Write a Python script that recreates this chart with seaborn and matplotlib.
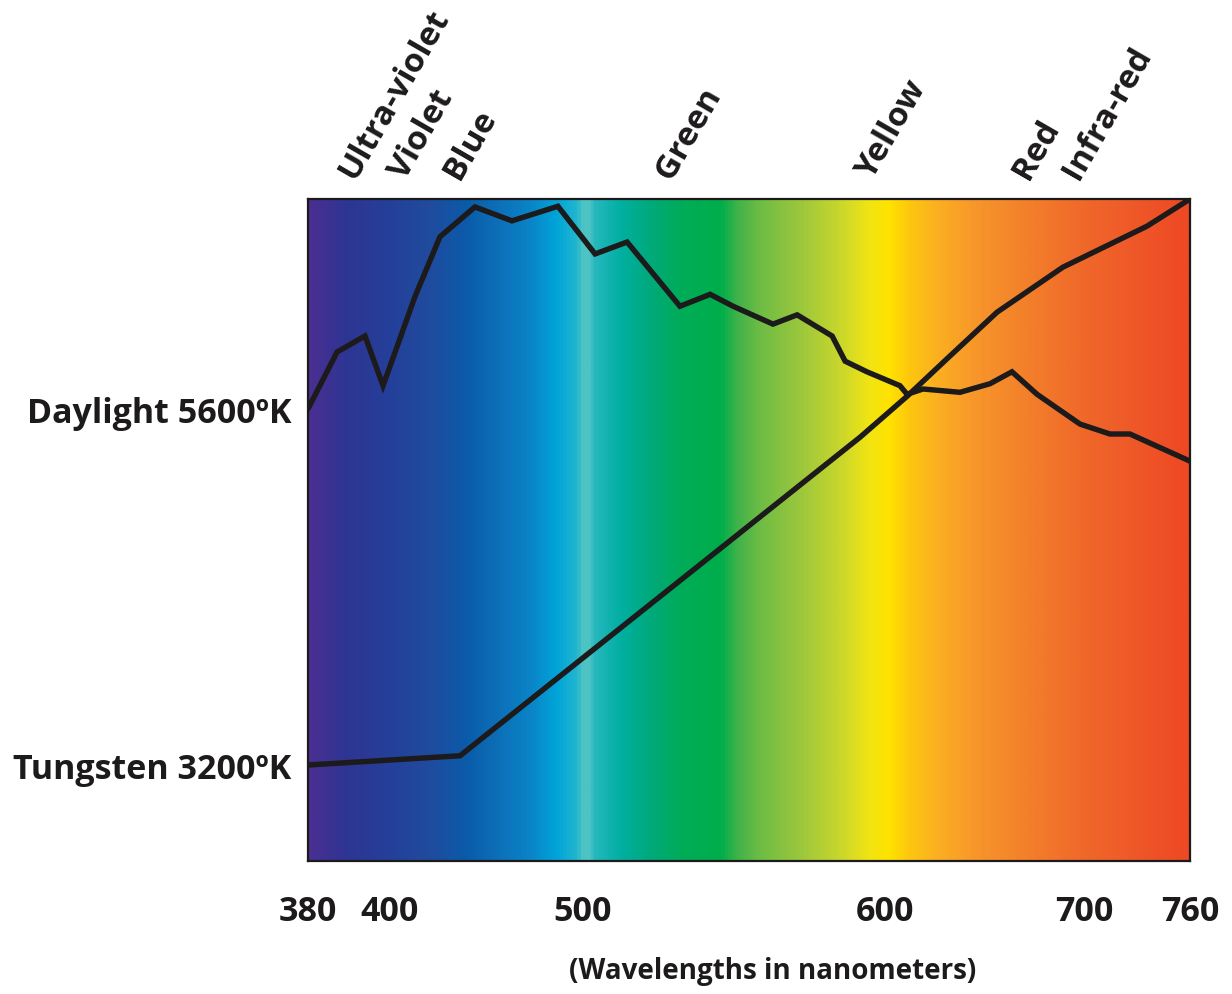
import numpy as np
import pandas as pd
import matplotlib
matplotlib.use("Agg")
import matplotlib.pyplot as plt
from matplotlib.colors import LinearSegmentedColormap
import seaborn as sns

# ---------------- data ----------------
DAYLIGHT_WL = [380, 387.1, 393.9, 398.3, 413.0, 425.9, 444.0, 463.2, 487.0, 504.0,
               514.6, 532.1, 542.1, 549.7, 562.9, 570.9, 582.5, 586.8, 594.0, 607.5,
               611.1, 619.1, 637.7, 652.8, 663.8, 676.4, 698.0, 714.7, 726.0, 760]
DAYLIGHT_VAL = [68.3, 76.9, 79.3, 71.8, 85.3, 94.3, 98.8, 96.7, 98.9, 91.7,
                93.5, 83.8, 85.6, 83.8, 81.1, 82.5, 79.3, 75.5, 73.9, 71.8,
                70.5, 71.3, 70.8, 72.1, 73.9, 70.5, 66.0, 64.5, 64.5, 60.4]

TUNGSTEN_WL = [380, 436.3, 591.7, 611.1, 632.7, 656.3, 689.4, 735.7, 760]
TUNGSTEN_VAL = [14.5, 15.9, 64.0, 70.2, 76.3, 82.9, 89.7, 95.9, 100]

SERIES_LABELS = ["Daylight 5600ºK", "Tungsten 3200ºK"]

X_TICKS = [380, 400, 500, 600, 700, 760]
X_TICK_LABELS = ["380", "400", "500", "600", "700", "760"]
X_LABEL = "(Wavelengths in nanometers)"

BAND_LABELS = ["Ultra-violet", "Violet", "Blue", "Green", "Yellow", "Red", "Infra-red"]
BAND_WL = [402, 416.5, 441.5, 535, 603.5, 676, 713]

# non-linear wavelength axis (piecewise, as printed)
AXIS_WL = [380, 400, 500, 600, 700, 760]
AXIS_POS = [0, 82, 275, 577, 776, 882]

# spectrum background colour stops (axes fraction, colour)
SPECTRUM = [(0.000, "#4A2F93"), (0.040, "#2E3592"), (0.093, "#24409A"),
            (0.139, "#1F4C9E"), (0.179, "#0A5BAA"), (0.207, "#0D6BB4"),
            (0.252, "#0A85C8"), (0.281, "#00A4D8"), (0.304, "#22B6CF"),
            (0.310, "#4DC3C3"), (0.318, "#4DC3C3"), (0.326, "#22B7BD"),
            (0.356, "#00AFA0"), (0.390, "#00A978"), (0.424, "#00AC58"),
            (0.469, "#00AE4A"), (0.486, "#3EB24A"), (0.512, "#6DBC45"),
            (0.558, "#9BC73C"), (0.603, "#C8D62D"), (0.637, "#F1E413"),
            (0.660, "#FFE200"), (0.683, "#FDC70F"), (0.717, "#FBAE22"),
            (0.762, "#F7942B"), (0.819, "#F37F2A"), (0.875, "#F06A2A"),
            (0.932, "#EF5A29"), (1.000, "#EE4824")]

# ---------------- style ----------------
sns.set_theme(style="white")
plt.rcParams["font.family"] = ["Open Sans", "DejaVu Sans"]
plt.rcParams["font.weight"] = "bold"
INK = "#1c1a1a"

W, H = 1232, 995
fig = plt.figure(figsize=(W / 100, H / 100), dpi=100)
ax = fig.add_axes([308 / W, 1 - 862 / H, 882 / W, 662 / H])

# background spectrum
cmap = LinearSegmentedColormap.from_list("spectrum", SPECTRUM)
grad = np.linspace(0, 1, 1200).reshape(1, -1)
ax.imshow(grad, cmap=cmap, aspect="auto", extent=[0, 1, 0, 1],
          transform=ax.transAxes, zorder=0, interpolation="bilinear")

day = pd.DataFrame({"wl": DAYLIGHT_WL, "val": DAYLIGHT_VAL})
tung = pd.DataFrame({"wl": TUNGSTEN_WL, "val": TUNGSTEN_VAL})
line_kw = dict(color=INK, linewidth=3.9, solid_joinstyle="miter", zorder=3)
sns.lineplot(data=day, x="wl", y="val", ax=ax, **line_kw)
sns.lineplot(data=tung, x="wl", y="val", ax=ax, **line_kw)

# piecewise scale
def fwd(x):
    return np.interp(x, AXIS_WL, AXIS_POS)

def inv(p):
    return np.interp(p, AXIS_POS, AXIS_WL)

ax.set_xscale("function", functions=(fwd, inv))
ax.set_xlim(380, 760)
ax.set_ylim(0, 100)

ax.set_xticks(X_TICKS)
ax.set_xticklabels(X_TICK_LABELS, fontsize=24.5, fontweight="bold", color=INK)
ax.set_yticks([DAYLIGHT_VAL[0], TUNGSTEN_VAL[0]])
ax.set_yticklabels(SERIES_LABELS, fontsize=24.5, fontweight="bold", color=INK)
ax.tick_params(axis="x", length=0, pad=24)
ax.tick_params(axis="y", length=0, pad=12)
ax.set_xlabel(X_LABEL, fontsize=20, fontweight="bold", color=INK)
ax.set_ylabel("")
ax.xaxis.set_label_coords(0.527, -0.165)
ax.xaxis.label.set_va("center")

for s in ax.spines.values():
    s.set_visible(True)
    s.set_color(INK)
    s.set_linewidth(1.6)

# band names along the top
for name, wl in zip(BAND_LABELS, BAND_WL):
    ax.text(wl, 1.022, name, transform=ax.get_xaxis_transform(),
            rotation=60, ha="center", va="bottom", fontsize=24,
            fontweight="bold", color=INK)

fig.savefig("out.png", dpi=100)
